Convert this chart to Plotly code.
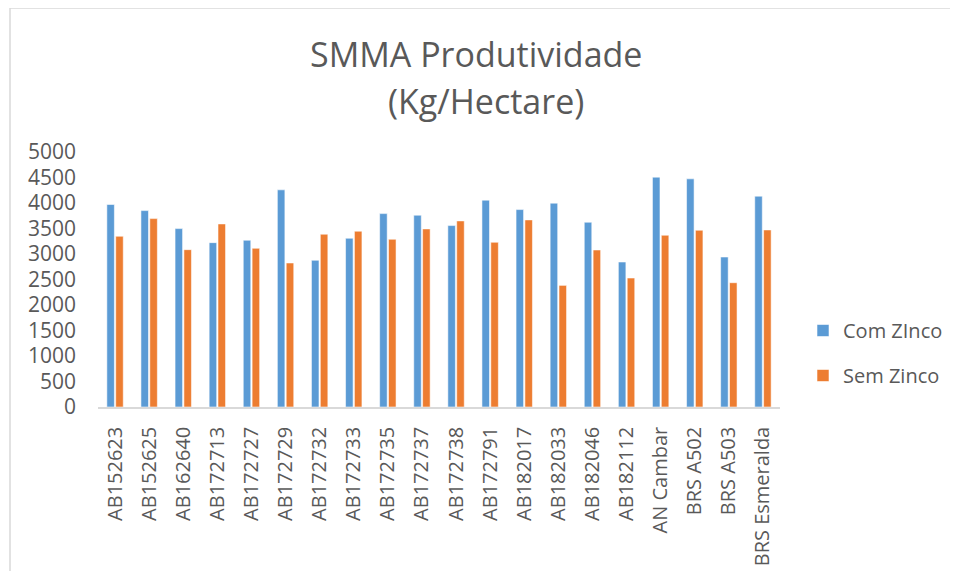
import plotly.graph_objects as go

categories = ["AB152623", "AB152625", "AB162640", "AB172713", "AB172727", "AB172729",
              "AB172732", "AB172733", "AB172735", "AB172737", "AB172738", "AB172791",
              "AB182017", "AB182033", "AB182046", "AB182112", "AN Cambar", "BRS A502",
              "BRS A503", "BRS Esmeralda"]
com_zinco = [3970, 3851, 3498, 3223, 3270, 4258, 2877, 3309, 3792, 3761, 3557, 4056,
             3871, 3997, 3623, 2843, 4507, 4474, 2941, 4134]
sem_zinco = [3348, 3694, 3085, 3590, 3112, 2824, 3388, 3447, 3289, 3492, 3649, 3230,
             3669, 2385, 3079, 2529, 3368, 3466, 2437, 3472]
y_ticks = [0, 500, 1000, 1500, 2000, 2500, 3000, 3500, 4000, 4500, 5000]

# page body margin offsets the figure by 8px; work in window coordinates
OFF = 8
WIN_W, WIN_H = 958, 579
W, H = WIN_W - 2 * OFF, WIN_H - 2 * OFF
# plot area in window coordinates
X0, X1, Y0, Y1 = 98, 780, 152, 407
L, R, T, B = X0 - OFF, (OFF + W) - X1, Y0 - OFF, (OFF + H) - Y1
PW, PH = X1 - X0, Y1 - Y0


def px2x(px):
    return (px - X0) / PW


def px2y(py):
    return (Y1 - py) / PH


FONT = "Open Sans"
GRAY = "#595959"

fig = go.Figure()
fig.add_trace(go.Bar(x=categories, y=com_zinco, name="Com ZInco", legendgroup="a",
                     marker=dict(color="#5B9BD5", line=dict(color="rgba(255,255,255,0.55)", width=1))))
fig.add_trace(go.Bar(x=categories, y=sem_zinco, name="Sem Zinco", legendgroup="b",
                     marker=dict(color="#ED7D31", line=dict(color="rgba(255,255,255,0.55)", width=1))))

fig.update_layout(
    width=W, height=H,
    margin=dict(l=L, r=R, t=T, b=B, autoexpand=False),
    paper_bgcolor="white", plot_bgcolor="white",
    font=dict(family=FONT, color=GRAY, size=20),
    barmode="group", bargap=0.48, bargroupgap=0.15,
    showlegend=True,
    legend=dict(x=px2x(803), xanchor="left", y=px2y(311), yanchor="top",
                font=dict(size=20, color=GRAY), traceorder="grouped",
                tracegroupgap=16, bgcolor="rgba(0,0,0,0)"),
    xaxis=dict(showgrid=False, showline=True, linecolor="#d9d9d9", linewidth=1.5,
               tickangle=-90, ticks="", tickfont=dict(size=20, color=GRAY),
               ticklabelstandoff=10, fixedrange=True),
    yaxis=dict(range=[0, 5000], tickvals=y_ticks, showgrid=False, showline=False,
               zeroline=False, ticks="", tickfont=dict(size=21, color=GRAY),
               ticklabelstandoff=21, fixedrange=True),
    annotations=[
        dict(text="SMMA Produtividade", x=px2x(476), y=px2y(54), xref="paper", yref="paper",
             xanchor="center", yanchor="middle", showarrow=False,
             font=dict(size=34, color=GRAY, family=FONT)),
        dict(text="(Kg/Hectare)", x=px2x(486), y=px2y(101), xref="paper", yref="paper",
             xanchor="center", yanchor="middle", showarrow=False,
             font=dict(size=34, color=GRAY, family=FONT)),
    ],
    shapes=[
        dict(type="rect", xref="paper", yref="paper",
             x0=px2x(10), x1=px2x(975), y0=px2y(595), y1=px2y(8),
             line=dict(color="#d9d9d9", width=1.5), fillcolor="rgba(0,0,0,0)", layer="below"),
    ],
)

fig.write_html("out.html", config=dict(displayModeBar=False))
